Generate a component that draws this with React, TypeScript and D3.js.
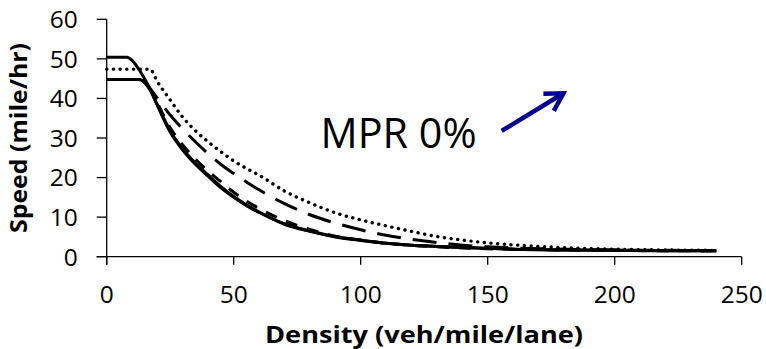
import React from "react";
import * as d3 from "d3";

const density = [0, 8, 10, 12.5, 14, 17, 20, 25, 30, 35, 40, 45, 50, 55, 60, 70, 80, 90, 100, 110, 120, 130, 140, 150, 160, 180, 200, 220, 240];

const seriesA = [50.4, 50.4, 49.6, 47.5, 46, 42.5, 38.2, 31.5, 26.9, 23.3, 20.3, 17.4, 15.0, 12.9, 11.2, 8.2, 6.4, 5.0, 4.1, 3.4, 2.9, 2.6, 2.3, 2.1, 1.9, 1.7, 1.6, 1.5, 1.5];
const seriesB = [44.8, 44.8, 44.8, 44.8, 44.5, 42.2, 38.3, 31.8, 27.2, 23.6, 20.6, 17.7, 15.2, 13.1, 11.3, 8.3, 6.5, 5.1, 4.2, 3.4, 2.9, 2.6, 2.3, 2.1, 1.9, 1.7, 1.6, 1.5, 1.5];
const seriesC = [44.8, 44.8, 44.8, 44.8, 44.6, 42.5, 38.8, 32.6, 28.2, 24.6, 21.6, 18.9, 16.3, 14.1, 12.2, 9.1, 6.9, 5.2, 4.2, 3.4, 2.9, 2.5, 2.2, 2.0, 1.9, 1.7, 1.6, 1.5, 1.5];
const seriesD = [44.8, 44.8, 44.8, 44.8, 44.7, 42.6, 40.0, 35.8, 32.2, 29.0, 26.0, 23.3, 21.0, 18.9, 16.9, 13.4, 10.6, 8.5, 6.8, 5.4, 4.4, 3.6, 2.9, 2.5, 2.2, 1.9, 1.7, 1.6, 1.5];
const seriesE = [47.4, 47.4, 47.4, 47.4, 47.4, 47.4, 44.2, 39.6, 35.2, 31.8, 29.0, 26.5, 24.2, 22.3, 20.6, 16.6, 13.6, 11.1, 9.3, 7.8, 6.4, 5.1, 4.2, 3.5, 3.0, 2.3, 1.9, 1.7, 1.6];

const xTicks = [0, 50, 100, 150, 200, 250];
const yTicks = [0, 10, 20, 30, 40, 50, 60];

const xTitle = "Density (veh/mile/lane)";
const yTitle = "Speed (mile/hr)";
const annotationText = "MPR 0%";
const annotationPos = [84.6, 27.5];
const arrowTail = [155.5, 31.8];
const arrowTip = [179.8, 41.3];

const styles = [
  { data: seriesA, dash: "none", cap: "butt", w: 3 },
  { data: seriesB, dash: "none", cap: "butt", w: 3 },
  { data: seriesC, dash: "12,10", cap: "butt", w: 3 },
  { data: seriesD, dash: "24,12", cap: "butt", w: 3 },
  { data: seriesE, dash: "0.1,6.6", cap: "round", w: 3.4 },
];

export default function App() {
  const W = 766, H = 349;
  const x = d3.scaleLinear().domain([0, 250]).range([106.7, 741.7]);
  const y = d3.scaleLinear().domain([0, 60]).range([256.7, 19.3]);
  const line = d3
    .line<number>()
    .x((_, i) => x(density[i]))
    .y((v) => y(v))
    .curve(d3.curveMonotoneX);

  const tx = x(arrowTail[0]), ty = y(arrowTail[1]);
  const hx = x(arrowTip[0]), hy = y(arrowTip[1]);
  const ang = Math.atan2(hy - ty, hx - tx);
  const back = ang + Math.PI;
  const armLen = 20;
  const spread = (30 * Math.PI) / 180;
  const a1 = [hx + armLen * Math.cos(back - spread), hy + armLen * Math.sin(back - spread)];
  const a2 = [hx + armLen * Math.cos(back + spread), hy + armLen * Math.sin(back + spread)];

  const font = "'Open Sans', sans-serif";

  return (
    <svg
      width={W}
      height={H}
      style={{ position: "absolute", left: 0, top: 0, background: "#fff" }}
      fontFamily={font}
    >
      <rect width={W} height={H} fill="#fff" />
      {/* axes */}
      <line x1={x(0)} x2={x(0)} y1={y(60)} y2={y(0) + 8} stroke="#000" strokeWidth={1.3} />
      <line x1={x(0) - 10} x2={x(250)} y1={y(0)} y2={y(0)} stroke="#000" strokeWidth={1.3} />
      {yTicks.map((t) => (
        <g key={"y" + t}>
          <line x1={x(0) - 10} x2={x(0)} y1={y(t)} y2={y(t)} stroke="#000" strokeWidth={1.3} />
          <text x={x(0) - 29} y={y(t)} dy="0.36em" textAnchor="end" fontSize={24.5} fill="#000">
            {t}
          </text>
        </g>
      ))}
      {xTicks.map((t) => (
        <g key={"x" + t}>
          <line x1={x(t)} x2={x(t)} y1={y(0)} y2={y(0) + 8} stroke="#000" strokeWidth={1.3} />
          <text x={x(t)} y={303.3} textAnchor="middle" fontSize={24.5} fill="#000">
            {t}
          </text>
        </g>
      ))}
      {/* axis titles */}
      <text
        x={424}
        y={343.3}
        textAnchor="middle"
        fontSize={23.5}
        fontWeight="bold"
        fill="#000"
        textLength={318}
        lengthAdjust="spacingAndGlyphs"
      >
        {xTitle}
      </text>
      <text
        transform={`translate(27,138) rotate(-90)`}
        textAnchor="middle"
        fontSize={23.5}
        fontWeight="bold"
        fill="#000"
        textLength={190}
        lengthAdjust="spacingAndGlyphs"
      >
        {yTitle}
      </text>
      {/* series */}
      {styles.map((s, i) => (
        <path
          key={i}
          d={line(s.data) || ""}
          fill="none"
          stroke="#000"
          strokeWidth={s.w}
          strokeDasharray={s.dash}
          strokeLinecap={s.cap as any}
          strokeLinejoin="round"
        />
      ))}
      {/* annotation */}
      <text
        x={x(annotationPos[0]) - 1}
        y={y(annotationPos[1])}
        fontSize={42}
        fill="#000"
        textLength={156}
        lengthAdjust="spacingAndGlyphs"
      >
        {annotationText}
      </text>
      <g stroke="#000090" strokeWidth={4.5} strokeLinecap="butt" fill="none">
        <line x1={tx} y1={ty} x2={hx} y2={hy} />
        <polyline points={`${a1[0]},${a1[1]} ${hx},${hy} ${a2[0]},${a2[1]}`} strokeLinejoin="miter" />
      </g>
    </svg>
  );
}
